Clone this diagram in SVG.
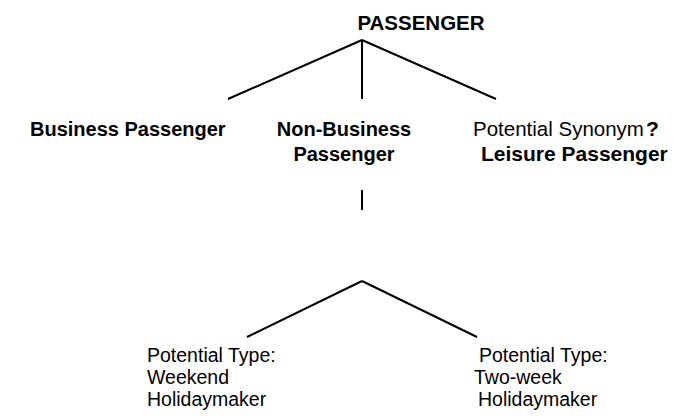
<svg xmlns="http://www.w3.org/2000/svg" width="696" height="416" viewBox="0 0 696 416">
<style>
text{font-family:"Liberation Sans",Arial,sans-serif;fill:#000;font-size:19.5px}
.b{font-weight:bold;font-size:20px}
.c line{stroke:#000;stroke-width:2;fill:none}
</style>
<rect width="696" height="416" fill="#fff"/>
<g class="c" id="connectors">
<line x1="362" y1="40" x2="228" y2="99"/>
<line x1="362" y1="40" x2="362" y2="99"/>
<line x1="362" y1="40" x2="496" y2="99"/>
<line x1="362" y1="190" x2="362" y2="210"/>
<line x1="362" y1="281" x2="247" y2="337"/>
<line x1="362" y1="281" x2="477" y2="337"/>
</g>
<g id="passenger"><text class="b" x="421" y="30" text-anchor="middle" style="font-size:20.5px">PASSENGER</text></g>
<g id="business"><text class="b" x="30" y="136">Business Passenger</text></g>
<g id="nonbusiness"><text class="b" x="344" y="136" text-anchor="middle">Non-Business</text><text class="b" x="344" y="161" text-anchor="middle">Passenger</text></g>
<g id="leisure"><text x="473" y="136" style="font-size:20.5px">Potential Synonym<tspan class="b" dx="2" style="font-size:21px">?</tspan></text><text class="b" x="481" y="161" style="font-size:21px">Leisure Passenger</text></g>
<g id="weekend"><text x="147" y="362">Potential Type:</text><text x="147" y="384">Weekend</text><text x="147" y="406">Holidaymaker</text></g>
<g id="twoweek"><text x="479" y="362">Potential Type:</text><text x="474" y="384">Two-week</text><text x="478" y="406">Holidaymaker</text></g>
</svg>
